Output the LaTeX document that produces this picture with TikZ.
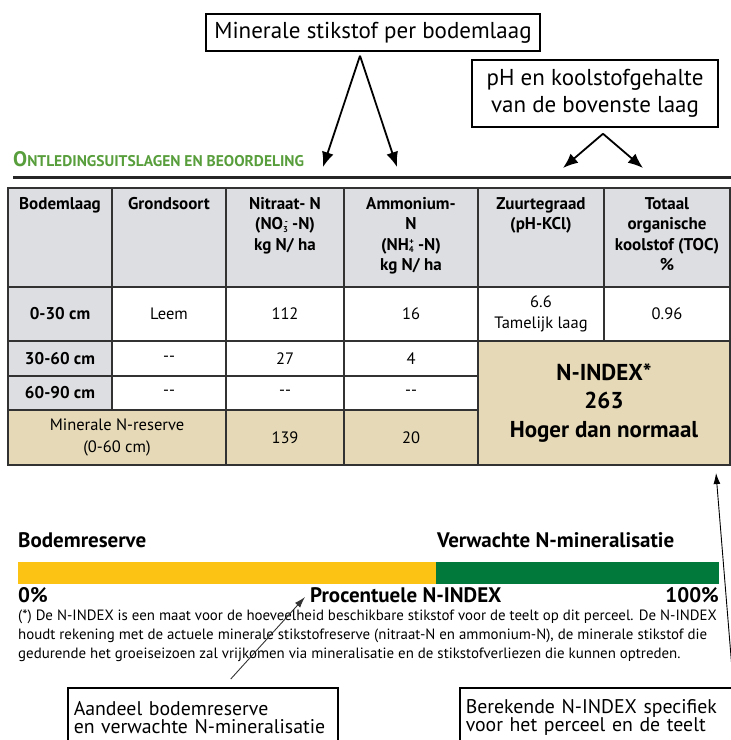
\documentclass[tikz,border=0pt]{standalone}
\usepackage{fontspec}
\setmainfont{PT Sans}
\usepackage{tikz}
\usetikzlibrary{arrows.meta}

\definecolor{kopgroen}{RGB}{88,158,60}
\definecolor{kopgrijs}{RGB}{221,222,225}
\definecolor{reservebeige}{RGB}{229,217,183}
\definecolor{balkgeel}{RGB}{252,194,20}
\definecolor{balkgroen}{RGB}{0,121,58}
\definecolor{lijngrijs}{RGB}{50,50,50}

% cel: naam, x0, y0, x1, y1, opties, tekst
\newcommand{\tcel}[7]{%
  \node[cel, #6, minimum width={(#4-#2)*1pt}, minimum height={(#5-#3)*1pt}]
    (#1) at ({(#2+#4)/2},{(#3+#5)/2}) {#7};}
\newcommand{\lading}[2]{\raisebox{-2.5pt}{\fontsize{8.5}{8.5}\selectfont #1}\llap{\raisebox{5.5pt}{\fontsize{8.5}{8.5}\selectfont #2}}}
\newcommand{\kk}[2]{{\fontsize{21}{21}\selectfont #1}{\fontsize{15.5}{15.5}\selectfont #2}}

\begin{document}
\begin{tikzpicture}[x=1pt,y=-1pt,
  kader/.style={draw=black, line width=1.5pt, inner sep=0pt, align=center, font=\fontsize{23}{27}\selectfont},
  cel/.style={draw=lijngrijs, line width=1.8pt, inner sep=0pt, align=center, font=\fontsize{16.5}{21.5}\selectfont},
  celkop/.style={anchor=north, inner sep=0pt, align=center, font=\bfseries\fontsize{17}{20.5}\selectfont},
  dikpijl/.style={-{Latex[length=15pt,width=12pt]}, line width=1.8pt},
  dunpijl/.style={-{Latex[length=11pt,width=7pt]}, line width=0.9pt},
  balklabel/.style={inner sep=0pt, font=\bfseries\fontsize{21}{21}\selectfont}
]
\useasboundingbox (0,0) rectangle (731,740);

% toelichting bovenaan
\node[kader, minimum width=334pt, minimum height=37pt] (perlaag) at (373,32.5) {Minerale stikstof per bodemlaag};
\node[kader, minimum width=246pt, minimum height=67pt] (toplaag) at (595,93.5) {pH en koolstofgehalte\\van de bovenste laag};
\coordinate (nitraatpijl) at (323,167);
\coordinate (ammoniumpijl) at (397,167);
\coordinate (phpijl) at (563,168);
\coordinate (tocpijl) at (643,168);
\draw[dikpijl] ([xshift=-13pt,yshift=-4pt]perlaag.south) -- (nitraatpijl);
\draw[dikpijl] ([xshift=-13pt,yshift=-4pt]perlaag.south) -- (ammoniumpijl);
\draw[dikpijl] ([xshift=8pt,yshift=-6pt]toplaag.south) -- (phpijl);
\draw[dikpijl] ([xshift=8pt,yshift=-6pt]toplaag.south) -- (tocpijl);

\node[anchor=base west, inner sep=0pt, text=kopgroen, font=\bfseries] (kop) at (13,166) {\kk{O}{NTLEDINGSUITSLAGEN EN BEOORDELING}};
\draw[line width=3pt, color=black!85] (13,177) -- (731,177);

% tabel
\tcel{h1}{8}{188}{112}{287}{fill=kopgrijs}{}
\tcel{h2}{112}{188}{226}{287}{fill=kopgrijs}{}
\tcel{h3}{226}{188}{344}{287}{fill=kopgrijs}{}
\tcel{h4}{344}{188}{478}{287}{fill=kopgrijs}{}
\tcel{h5}{478}{188}{604}{287}{fill=kopgrijs}{}
\tcel{h6}{604}{188}{730}{287}{fill=kopgrijs}{}
\node[celkop] (t1) at ([yshift=-10pt]h1.north) {Bodemlaag};
\node[celkop] (t2) at ([yshift=-10pt]h2.north) {Grondsoort};
\node[celkop] (t3) at ([yshift=-10pt]h3.north) {Nitraat- N\\(NO\lading{3}{-} -N)\\kg N/ ha};
\node[celkop] (t4) at ([yshift=-10pt]h4.north) {Ammonium-\\N\\(NH\lading{4}{+} -N)\\kg N/ ha};
\node[celkop] (t5) at ([yshift=-10pt]h5.north) {Zuurtegraad\\(pH-KCl)};
\node[celkop] (t6) at ([yshift=-10pt]h6.north) {Totaal\\organische\\koolstof (TOC)\\\%};

\tcel{b1}{8}{287}{112}{341}{fill=kopgrijs, font=\bfseries\fontsize{17}{21}\selectfont}{0-30 cm}
\tcel{g1}{112}{287}{226}{341}{fill=white}{Leem}
\tcel{n1}{226}{287}{344}{341}{fill=white}{112}
\tcel{a1}{344}{287}{478}{341}{fill=white}{16}
\tcel{z1}{478}{287}{604}{341}{fill=white}{6.6\\Tamelijk laag}
\tcel{c1}{604}{287}{730}{341}{fill=white}{0.96}

\tcel{b2}{8}{341}{112}{376}{fill=kopgrijs, font=\bfseries\fontsize{17}{21}\selectfont}{30-60 cm}
\tcel{g2}{112}{341}{226}{376}{fill=white}{{-}{-}}
\tcel{n2}{226}{341}{344}{376}{fill=white}{27}
\tcel{a2}{344}{341}{478}{376}{fill=white}{4}

\tcel{b3}{8}{376}{112}{410}{fill=kopgrijs, font=\bfseries\fontsize{17}{21}\selectfont}{60-90 cm}
\tcel{g3}{112}{376}{226}{410}{fill=white}{{-}{-}}
\tcel{n3}{226}{376}{344}{410}{fill=white}{{-}{-}}
\tcel{a3}{344}{376}{478}{410}{fill=white}{{-}{-}}

\tcel{reserve}{8}{410}{226}{465}{fill=reservebeige}{Minerale N-reserve\\(0-60 cm)}
\tcel{n4}{226}{410}{344}{465}{fill=reservebeige}{139}
\tcel{a4}{344}{410}{478}{465}{fill=reservebeige}{20}
\tcel{nindex}{478}{341}{730}{465}{fill=reservebeige, font=\bfseries\fontsize{23}{28.5}\selectfont}{N-INDEX*\\263\\Hoger dan normaal}

% balk
\node[balklabel, anchor=base west] (bodem) at (18,547) {Bodemreserve};
\node[balklabel, anchor=base west] (verwacht) at (437,547) {Verwachte N-mineralisatie};
\fill[balkgeel] (18,562) rectangle (436,584);
\fill[balkgroen] (436,562) rectangle (719,584);
\node[balklabel, anchor=base west] (nul) at (18,602) {0\%};
\node[balklabel, anchor=base west] (procent) at (310,602) {Procentuele N-INDEX};
\node[balklabel, anchor=base east] (honderd) at (719,602) {100\%};

\node[anchor=north west, inner sep=0pt, align=left, font=\fontsize{14.9}{19}\selectfont] (voetnoot) at (18,610)
  {(*) De N-INDEX is een maat voor de hoeveelheid beschikbare stikstof voor de teelt op dit perceel. De N-INDEX\\
   houdt rekening met de actuele minerale stikstofreserve (nitraat-N en ammonium-N), de minerale stikstof die\\
   gedurende het groeiseizoen zal vrijkomen via mineralisatie en de stikstofverliezen die kunnen optreden.};

% toelichting onderaan
\node[kader, anchor=north west, align=left, text width=258pt, inner xsep=6pt, minimum height=60pt, font=\fontsize{19.8}{18}\selectfont] (aandeel) at (67,687) {Aandeel bodemreserve\\en verwachte N-mineralisatie};
\node[kader, anchor=north west, align=left, text width=261pt, inner xsep=6pt, minimum height=60pt, font=\fontsize{19.8}{18}\selectfont] (berekend) at (459,687) {Berekende N-INDEX specifiek\\voor het perceel en de teelt};
\coordinate (procentpijl) at (305,597);
\coordinate (indexpijl) at (716,473);
\draw[dunpijl, black!80] ([xshift=28pt,yshift=8pt]aandeel.north) -- (procentpijl);
\draw[dunpijl] (berekend.north east) -- (indexpijl);
\end{tikzpicture}
\end{document}
